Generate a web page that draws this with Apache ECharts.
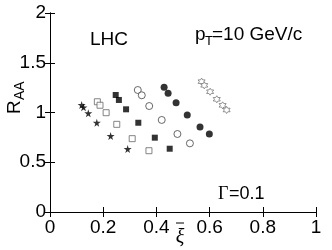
<!DOCTYPE html>
<html>
<head>
<meta charset="utf-8">
<script src="https://cdn.jsdelivr.net/npm/echarts@6/dist/echarts.min.js"></script>
<style>html,body{margin:0;padding:0;background:#fff}#c{width:332px;height:250px}</style>
</head>
<body>
<div id="c"></div>
<script>
var xTicks = [0, 0.2, 0.4, 0.6, 0.8, 1];
var yTicks = [0, 0.5, 1, 1.5, 2];
var starFilledX = [0.119, 0.126, 0.144, 0.176, 0.228, 0.292];
var starFilledY = [1.075, 1.052, 0.992, 0.897, 0.764, 0.633];
var sqOpenX = [0.178, 0.188, 0.211, 0.251, 0.309, 0.372];
var sqOpenY = [1.108, 1.073, 0.998, 0.881, 0.737, 0.616];
var sqFilledX = [0.247, 0.259, 0.286, 0.332, 0.394, 0.450];
var sqFilledY = [1.176, 1.126, 1.032, 0.897, 0.747, 0.636];
var circOpenX = [0.330, 0.345, 0.373, 0.420, 0.479, 0.526];
var circOpenY = [1.226, 1.173, 1.065, 0.925, 0.784, 0.690];
var circFilledX = [0.429, 0.444, 0.474, 0.516, 0.564, 0.599];
var circFilledY = [1.253, 1.193, 1.098, 0.975, 0.854, 0.784];
var hexOpenX = [0.570, 0.580, 0.602, 0.627, 0.649, 0.664];
var hexOpenY = [1.310, 1.273, 1.209, 1.133, 1.072, 1.025];

function pairs(xs, ys) { return xs.map(function (x, i) { return [x, ys[i]]; }); }

var STAR = 'path://M50,0 L61,35 L98,35 L68,57 L79,91 L50,70 L21,91 L32,57 L2,35 L39,35 Z';
var HEX = 'path://M50,0 L64.4,25 L93.3,25 L78.9,50 L93.3,75 L64.4,75 L50,100 L35.6,75 L6.7,75 L21.1,50 L6.7,25 L35.6,25 Z';

var FONT = 'Liberation Sans';
var chart = echarts.init(document.getElementById('c'), null, {renderer: 'canvas'});
var axisCommon = {
  type: 'value',
  axisLine: {show: true, lineStyle: {color: '#000', width: 1}},
  axisTick: {show: true, inside: true, length: 5, lineStyle: {color: '#000'}},
  splitLine: {show: false}
};
chart.setOption({
  animation: false,
  backgroundColor: '#fff',
  grid: {left: 50, right: 16, top: 13, bottom: 38, outerBoundsMode: 'none'},
  xAxis: [
    Object.assign({}, axisCommon, {min: xTicks[0], max: xTicks[xTicks.length - 1], interval: 0.2, position: 'bottom',
      axisLabel: {color: '#000', fontSize: 19, fontFamily: FONT, margin: 6,
        formatter: function (v) { return String(+v.toFixed(1)); }}}),
    Object.assign({}, axisCommon, {min: 0, max: 1, interval: 0.2, position: 'top', axisLabel: {show: false}})
  ],
  yAxis: [
    Object.assign({}, axisCommon, {min: yTicks[0], max: yTicks[yTicks.length - 1], interval: 0.5, position: 'left',
      axisLabel: {color: '#000', fontSize: 19, fontFamily: FONT, margin: 4,
        formatter: function (v) { return String(+v.toFixed(1)); }}}),
    Object.assign({}, axisCommon, {min: 0, max: 2, interval: 0.5, position: 'right', axisLabel: {show: false}})
  ],
  series: [
    {type: 'scatter', symbol: STAR, symbolSize: 8, data: pairs(starFilledX, starFilledY),
      itemStyle: {color: '#000'}},
    {type: 'scatter', symbol: 'rect', symbolSize: 6, data: pairs(sqOpenX, sqOpenY),
      itemStyle: {color: '#fff', borderColor: '#666', borderWidth: 1}},
    {type: 'scatter', symbol: 'rect', symbolSize: 6, data: pairs(sqFilledX, sqFilledY),
      itemStyle: {color: '#000'}},
    {type: 'scatter', symbol: 'circle', symbolSize: 7, data: pairs(circOpenX, circOpenY),
      itemStyle: {color: '#fff', borderColor: '#444', borderWidth: 1}},
    {type: 'scatter', symbol: 'circle', symbolSize: 7, data: pairs(circFilledX, circFilledY),
      itemStyle: {color: '#000'}},
    {type: 'scatter', symbol: HEX, symbolSize: 7, data: pairs(hexOpenX, hexOpenY),
      itemStyle: {color: '#fff', borderColor: '#777', borderWidth: 1}}
  ],
  graphic: [
    {type: 'text', x: 90, y: 40, style: {text: 'LHC', fontSize: 19, fontFamily: FONT, fill: '#000', verticalAlign: 'middle'}},
    {type: 'text', x: 195, y: 35, style: {text: 'p', fontSize: 19, fontFamily: FONT, fill: '#000', verticalAlign: 'middle'}},
    {type: 'text', x: 205, y: 41, style: {text: 'T', fontSize: 13, fontFamily: FONT, fill: '#000', verticalAlign: 'middle'}},
    {type: 'text', x: 212, y: 35, style: {text: '=10 GeV/c', fontSize: 19, fontFamily: FONT, fill: '#000', verticalAlign: 'middle'}},
    {type: 'text', x: 218, y: 194, style: {text: '\u0393', fontSize: 18, fontFamily: 'Liberation Serif', fill: '#000', verticalAlign: 'middle'}},
    {type: 'text', x: 229, y: 194, style: {text: '=0.1', fontSize: 18, fontFamily: FONT, fill: '#000', verticalAlign: 'middle'}},
    {type: 'text', x: 180, y: 238, style: {text: '\u03be', fontSize: 20, fontFamily: 'Liberation Serif', fontStyle: 'italic', fill: '#000', align: 'center', verticalAlign: 'middle'}},
    {type: 'line', shape: {x1: 176, y1: 223, x2: 184, y2: 223}, style: {stroke: '#000', lineWidth: 1}},
    {type: 'group', x: 15, y: 98, rotation: Math.PI / 2, children: [
      {type: 'text', x: -16, y: 0, style: {text: 'R', fontSize: 19, fontFamily: FONT, fill: '#000', verticalAlign: 'middle'}},
      {type: 'text', x: -2, y: 5, style: {text: 'AA', fontSize: 14, fontFamily: FONT, fill: '#000', verticalAlign: 'middle'}}
    ]}
  ]
});
</script>
</body>
</html>
